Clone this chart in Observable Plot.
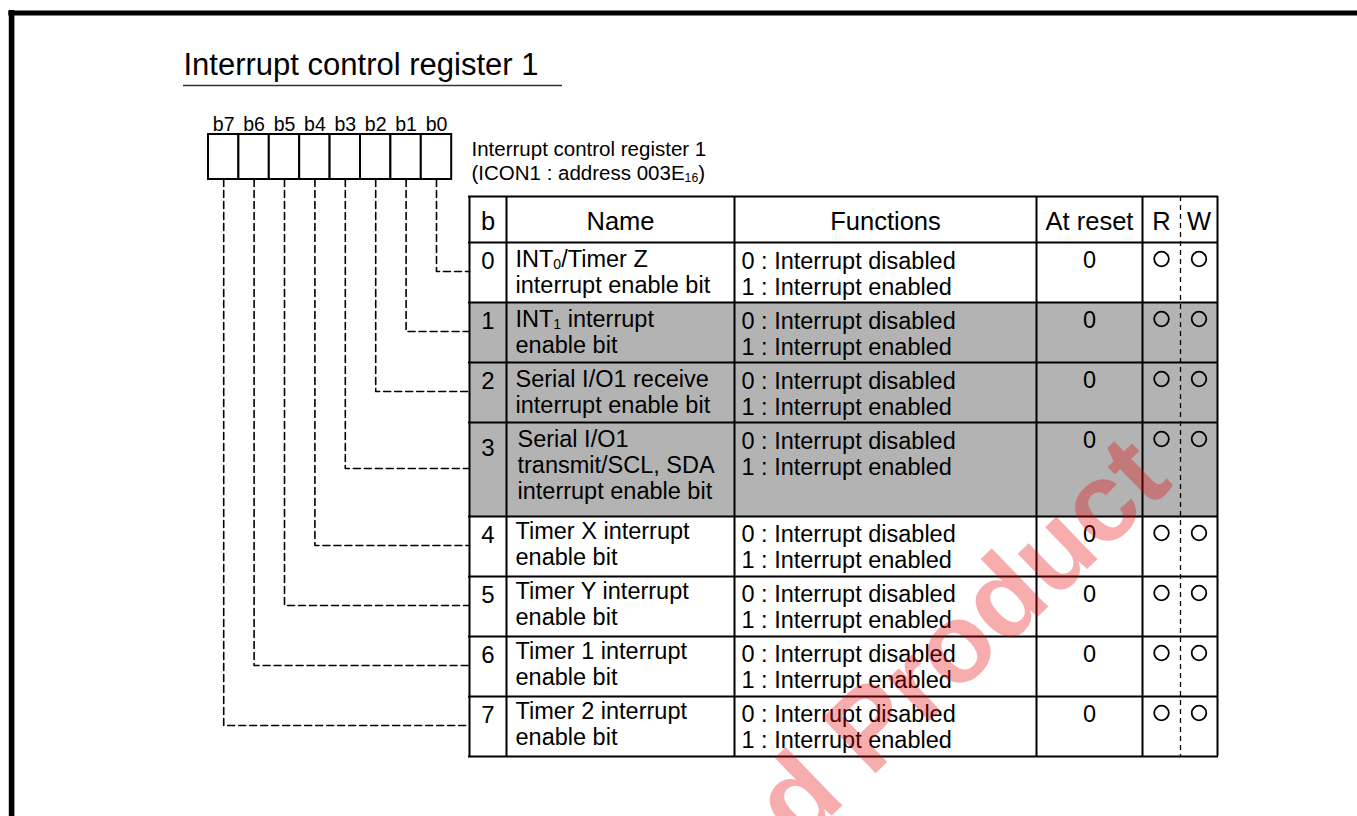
<!DOCTYPE html>
<html>
<head>
<meta charset="utf-8">
<script src="https://cdn.jsdelivr.net/npm/d3@7"></script>
<script src="https://cdn.jsdelivr.net/npm/@observablehq/plot@0.6"></script>
<style>
  html, body { margin: 0; padding: 0; background: #fff; overflow: hidden; }
  svg { display: block; }
</style>
</head>
<body>
<div id="chart"></div>
<script>
// ---------------- DATA ----------------
const title = "Interrupt control register 1";
const registerCaption = ["Interrupt control register 1", "(ICON1 : address 003E_{16})"];
const bitLabels = ["b7", "b6", "b5", "b4", "b3", "b2", "b1", "b0"];
const headers = ["b", "Name", "Functions", "At reset", "R", "W"];
const bitNumbers = [0, 1, 2, 3, 4, 5, 6, 7];
const bitNames = [
  ["INT_{0}/Timer Z", "interrupt enable bit"],
  ["INT_{1} interrupt", "enable bit"],
  ["Serial I/O1 receive", "interrupt enable bit"],
  ["Serial I/O1", "transmit/SCL, SDA", "interrupt enable bit"],
  ["Timer X interrupt", "enable bit"],
  ["Timer Y interrupt", "enable bit"],
  ["Timer 1 interrupt", "enable bit"],
  ["Timer 2 interrupt", "enable bit"]
];
const bitFunctions = [
  ["0 : Interrupt disabled", "1 : Interrupt enabled"],
  ["0 : Interrupt disabled", "1 : Interrupt enabled"],
  ["0 : Interrupt disabled", "1 : Interrupt enabled"],
  ["0 : Interrupt disabled", "1 : Interrupt enabled"],
  ["0 : Interrupt disabled", "1 : Interrupt enabled"],
  ["0 : Interrupt disabled", "1 : Interrupt enabled"],
  ["0 : Interrupt disabled", "1 : Interrupt enabled"],
  ["0 : Interrupt disabled", "1 : Interrupt enabled"]
];
const resetValues = ["0", "0", "0", "0", "0", "0", "0", "0"];
const readAccess  = [true, true, true, true, true, true, true, true];
const writeAccess = [true, true, true, true, true, true, true, true];
const shadedBits  = [1, 2, 3];
const watermark = "d Product";

// ---------------- LAYOUT ----------------
const W = 1357, H = 816;
const FONT = "'Liberation Sans', Arial, Helvetica, sans-serif";
const reg = {x0: 208, cellW: 30.4, y1: 134, y2: 179, labelY: 130};
const cols = [469, 506, 734, 1036, 1142, 1180, 1217];
const headerTop = 196, headerBottom = 242;
const rowHeight = lines => lines === 3 ? 94 : 60;
const rowTops = [];
{
  let t = headerBottom;
  for (const n of bitNames) { rowTops.push(t); t += rowHeight(n.length); }
  rowTops.push(t);
}
const tableBottom = rowTops[rowTops.length - 1];
const colCenter = i => (cols[i] + cols[i + 1]) / 2;

// ---------------- MARK DATA ----------------
const regCells = bitLabels.map((label, i) => ({
  label,
  x1: reg.x0 + i * reg.cellW,
  x2: reg.x0 + (i + 1) * reg.cellW,
  xc: reg.x0 + (i + 0.5) * reg.cellW
}));

const connectors = [];
bitNumbers.forEach(b => {
  const cell = regCells[7 - b];
  const yc = (rowTops[b] + rowTops[b + 1]) / 2 - 1;
  connectors.push({b, x: cell.xc, y: reg.y2});
  connectors.push({b, x: cell.xc, y: yc});
  connectors.push({b, x: cols[0], y: yc});
});

const shaded = shadedBits.map(b => ({y1: rowTops[b], y2: rowTops[b + 1]}));

const headerText = headers.map((t, i) => ({t, x: colCenter(i), y: 229}));

const numText = bitNumbers.map(b => ({
  t: String(b), x: colCenter(0),
  y: rowTops[b] + 26 + (bitNames[b].length - 2) * 7
}));

const nameText = bitNames.flatMap((lines, b) =>
  lines.map((t, j) => ({t, x: cols[1] + 9 + (lines.length === 3 ? 2 : 0), y: rowTops[b] + 24 - (b >= 4 ? 2 : 0) + j * 26})));

const funcText = bitFunctions.flatMap((lines, b) =>
  lines.map((t, j) => ({t, x: cols[2] + 7, y: rowTops[b] + 26 - (b >= 4 ? 1 : 0) + j * 26})));

const resetText = resetValues.map((t, b) => ({t, x: colCenter(3), y: rowTops[b] + 25}));

const circles = [
  ...readAccess.map((on, b) => on ? {x: colCenter(4), y: rowTops[b] + 16.5} : null),
  ...writeAccess.map((on, b) => on ? {x: colCenter(5), y: rowTops[b] + 16.5} : null)
].filter(Boolean);

const hLines = [headerTop, ...rowTops];
const vLines = cols.filter((c, i) => i !== 5);

const textOpts = (size, anchor) => ({
  text: "t", x: "x", y: "y", fontSize: size, textAnchor: anchor,
  lineAnchor: "bottom", fill: "black"
});

// ---------------- PLOT ----------------
const svg = Plot.plot({
  width: W, height: H, margin: 0,
  x: {domain: [0, W], range: [0, W], axis: null},
  y: {domain: [0, H], range: [0, H], axis: null},
  style: {fontFamily: FONT, background: "white", overflow: "hidden"},
  marks: [
    // outer frame
    Plot.ruleY([12.5], {x1: 8.3, x2: W, stroke: "black", strokeWidth: 5}),
    Plot.ruleX([11.1], {y1: 10, y2: H, stroke: "black", strokeWidth: 5.6}),

    // title
    Plot.text([{t: title, x: 183, y: 74}], textOpts(31, "start")),
    Plot.ruleY([85], {x1: 183, x2: 562, stroke: "#333", strokeWidth: 1.5}),

    // register box
    Plot.rect(regCells, {x1: "x1", x2: "x2", y1: reg.y1, y2: reg.y2, fill: "white", stroke: "black", strokeWidth: 2}),
    Plot.text(regCells, {text: "label", x: "xc", y: reg.labelY, fontSize: 19.5, textAnchor: "middle", lineAnchor: "bottom", fill: "black"}),

    // caption
    Plot.text(registerCaption.map((t, j) => ({t, x: 471, y: 155 + j * 24})), textOpts(20.5, "start")),

    // dashed connectors
    Plot.line(connectors, {x: "x", y: "y", z: "b", stroke: "black", strokeWidth: 1.6, strokeDasharray: "7,4", curve: "linear"}),

    // table shading
    Plot.rect(shaded, {x1: cols[0], x2: cols[cols.length - 1], y1: "y1", y2: "y2", fill: "#b3b3b3"}),

    // table grid
    Plot.ruleY(hLines, {x1: cols[0] - 1, x2: cols[cols.length - 1] + 1, stroke: "black", strokeWidth: 2}),
    Plot.ruleX(vLines, {y1: headerTop, y2: tableBottom, stroke: "black", strokeWidth: 2}),
    Plot.ruleX([cols[5]], {y1: headerTop, y2: tableBottom, stroke: "black", strokeWidth: 1.3, strokeDasharray: "5,4"}),

    // table text
    Plot.text(headerText, textOpts(25.5, "middle")),
    Plot.text(numText, textOpts(24, "middle")),
    Plot.text(nameText, textOpts(23.5, "start")),
    Plot.text(funcText, textOpts(23.5, "start")),
    Plot.text(resetText, textOpts(23.5, "middle")),
    Plot.dot(circles, {x: "x", y: "y", r: 7.3, fill: "none", stroke: "black", strokeWidth: 1.8}),

    // watermark
    Plot.text([{t: watermark, x: 1174, y: 484}], {
      text: "t", x: "x", y: "y", fontSize: 112, fontWeight: "bold", rotate: -44,
      textAnchor: "end", lineAnchor: "bottom", fill: "#e60000", fillOpacity: 0.32
    })
  ]
});

// subscripts: "_{..}" -> small lowered tspan
svg.querySelectorAll("text").forEach(t => {
  const s = t.textContent;
  if (!s.includes("_{")) return;
  t.textContent = "";
  const parts = s.split(/(_\{[^}]*\})/).filter(p => p);
  let shifted = false;
  for (const p of parts) {
    const ts = document.createElementNS("http://www.w3.org/2000/svg", "tspan");
    if (p.startsWith("_{")) {
      ts.textContent = p.slice(2, -1);
      ts.setAttribute("font-size", "0.6em");
      ts.setAttribute("dy", "2");
      shifted = true;
    } else {
      ts.textContent = p;
      if (shifted) { ts.setAttribute("dy", "-2"); shifted = false; }
    }
    t.appendChild(ts);
  }
});

document.getElementById("chart").appendChild(svg);
</script>
</body>
</html>
